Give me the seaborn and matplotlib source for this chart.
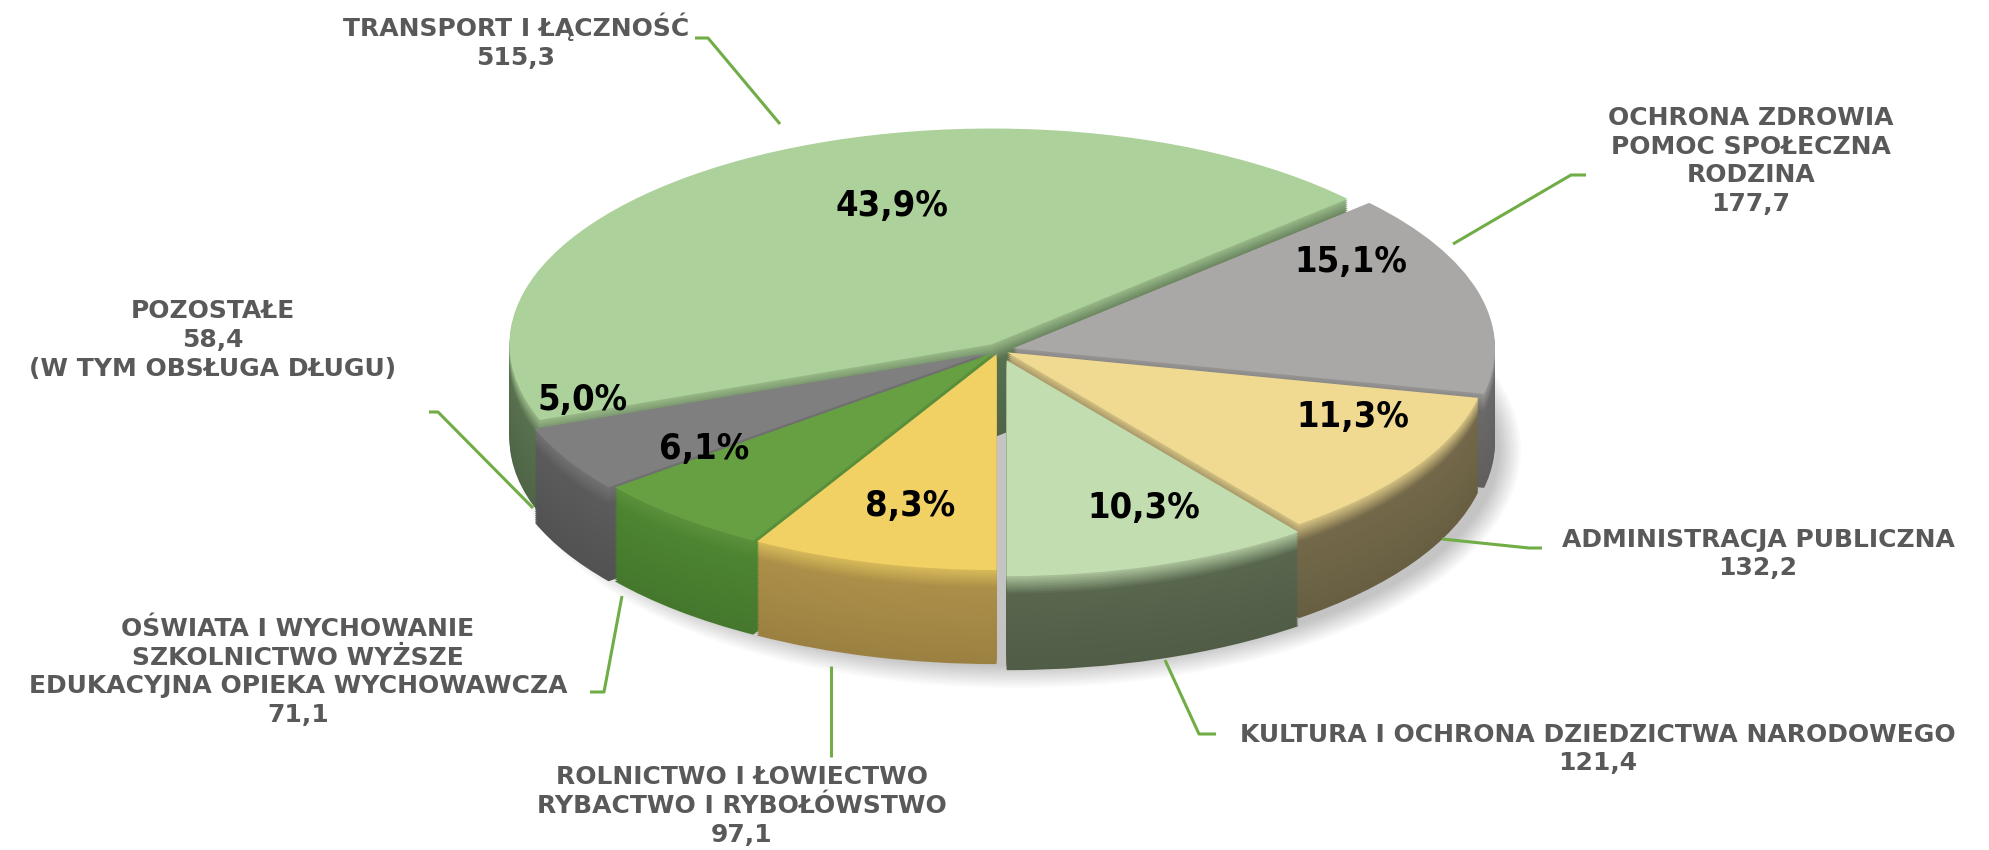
import numpy as np
import matplotlib.pyplot as plt
import seaborn as sns
from matplotlib.colors import to_rgb
from matplotlib.patches import Ellipse

# data
categories = [
    "KULTURA I OCHRONA DZIEDZICTWA NARODOWEGO",
    "ADMINISTRACJA PUBLICZNA",
    "OCHRONA ZDROWIA\nPOMOC SPOŁECZNA\nRODZINA",
    "TRANSPORT I ŁĄCZNOŚĆ",
    "POZOSTAŁE",
    "OŚWIATA I WYCHOWANIE\nSZKOLNICTWO WYŻSZE\nEDUKACYJNA OPIEKA WYCHOWAWCZA",
    "ROLNICTWO I ŁOWIECTWO\nRYBACTWO I RYBOŁÓWSTWO",
]
values = [121.4, 132.2, 177.7, 515.3, 58.4, 71.1, 97.1]
value_labels = ["121,4", "132,2", "177,7", "515,3", "58,4", "71,1", "97,1"]
notes = ["", "", "", "", "(W TYM OBSŁUGA DŁUGU)", "", ""]

# styles
top_colors = ["#c2ddb0", "#f0da92", "#aaa8a6", "#acd19a", "#7f7f7f", "#66a043", "#f1d064"]
wall_colors = ["#5b6950", "#766b4b", "#6e6c6a", "#5a7350", "#5d5d5d", "#4e8832", "#b0924a"]
explode = [0.05, 0.02, 0.03, 0.03, 0.03, 0.02, 0.02]   # fraction of radius
pct_dist = [0.795, 0.80, 0.78, 0.62, 0.88, 0.78, 0.78]
pct_turn = [2.4, 6.0, 11.0, -12.0, -11.5, -9.4, 1.6]  # degrees
pct_lift = 12  # px

# label block centres (px) and leader lines (px)
label_pos = [(1598, 749), (1758, 554), (1751, 161), (516, 41),
             (213, 340), (298, 672), (742, 806)]
leaders = [
    [(1165, 660), (1199, 734), (1216, 734)],
    [(1442, 539), (1529, 548), (1542, 548)],
    [(1453, 244), (1571, 175), (1586, 175)],
    [(780, 124), (708, 38), (695, 38)],
    [(533, 508), (438, 412), (429, 412)],
    [(622, 596), (604, 692), (590, 692)],
    [(831, 666), (831, 757)],
]

W, H = 1990, 850
squash = 0.448
cx, cy = 999, 350
R = 482
depth = 94


def to_data(px, py):
    return px, (H - py) / squash


sns.set_style("white")
plt.rcParams['font.family'] = ['DejaVu Sans']

fig = plt.figure(figsize=(W / 100, H / 100), dpi=100)
ax = fig.add_axes([0, 0, 1, 1])

expl = [e * R for e in explode]

# soft shadow under the pie
sx, sy = to_data(cx + 18, cy + depth + 6)
for k in range(12):
    ax.add_patch(Ellipse((sx, sy), 2 * R + 4 * k, 2 * R + 4 * k / squash,
                         color="#000000", alpha=0.018, lw=0, zorder=0))

# side walls: stacked pies, narrow bevel near the top edge
n_layers = 48
for i in range(n_layers, 0, -1):
    f = i / n_layers
    t = min(1.0, f * 5.0)
    cols = []
    for tc, wc in zip(top_colors, wall_colors):
        a = np.array(to_rgb(tc)) * 0.9
        b = np.array(to_rgb(wc)) * (1.0 - 0.12 * f)
        cols.append(tuple(np.clip(a * (1 - t) + b * t, 0, 1)))
    ax.pie(values, explode=expl, colors=cols, startangle=270,
           counterclock=True, radius=R, center=to_data(cx, cy + depth * f),
           wedgeprops=dict(linewidth=0))

# top face
wedges, _, autotexts = ax.pie(
    values, explode=expl, colors=top_colors, startangle=270,
    counterclock=True, radius=R, center=to_data(cx, cy),
    autopct=lambda p: f"{p:.1f}%".replace(".", ","),
    wedgeprops=dict(linewidth=0),
    textprops=dict(fontsize=26, fontweight="bold", color="black",
                   fontstretch="condensed"))

for w, t, d, turn in zip(wedges, autotexts, pct_dist, pct_turn):
    mid = np.deg2rad((w.theta1 + w.theta2) / 2 + turn)
    t.set_position((w.center[0] + d * R * np.cos(mid),
                    w.center[1] + d * R * np.sin(mid) + pct_lift / squash))

# category labels with leader lines
for name, val, note, (lx, ly), pts in zip(categories, value_labels, notes,
                                          label_pos, leaders):
    txt = name + "\n" + val + ("\n" + note if note else "")
    ax.text(*to_data(lx, ly), txt, ha="center", va="center",
            multialignment="center", fontsize=18, fontweight="bold",
            color="#595959", linespacing=1.25)
    xs = [p[0] for p in pts]
    ys = [to_data(*p)[1] for p in pts]
    ax.plot(xs, ys, color="#70ad47", lw=2.2, solid_capstyle="butt")

ax.set_xlim(0, W)
ax.set_ylim(0, H / squash)
ax.set_aspect("auto")
ax.axis("off")

fig.savefig("out.png", dpi=100, facecolor="white")
